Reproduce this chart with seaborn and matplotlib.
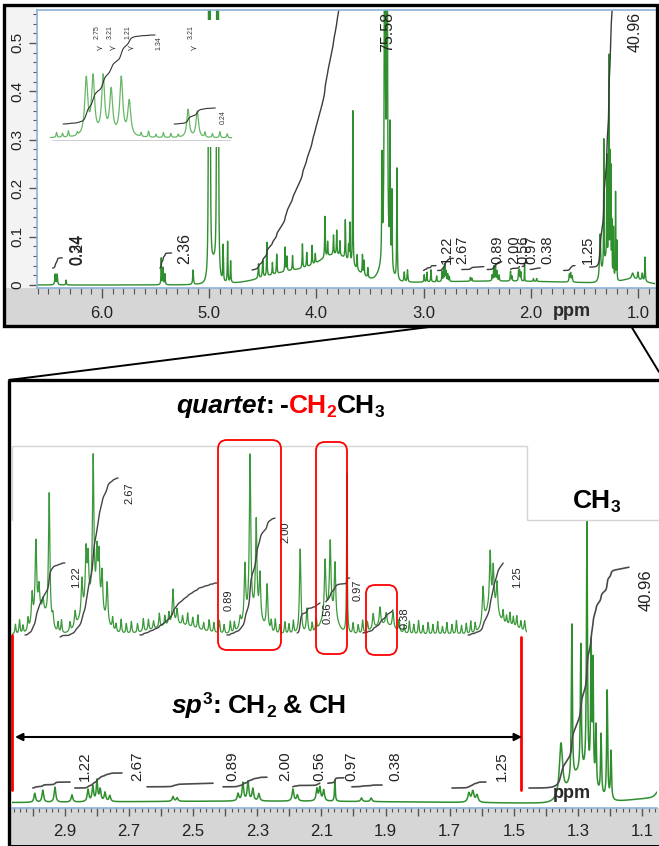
import numpy as np
import matplotlib
matplotlib.use("Agg")
import matplotlib.pyplot as plt
import matplotlib.ticker as mticker
from matplotlib.patches import Rectangle, FancyBboxPatch
import seaborn as sns

sns.set_style("white")
plt.rcParams["font.family"] = ["Liberation Sans", "DejaVu Sans"]

# ======================= DATA =======================
# main 1H spectrum lines: position (ppm), height, half-width (ppm)
main_line_ppm = [6.437, 6.418, 6.335,
                 5.447, 5.430, 5.412, 5.150,
                 5.004, 4.992, 4.928, 4.915, 4.870, 4.828, 4.800,
                 4.540, 4.500, 4.462, 4.410, 4.370, 4.292, 4.275, 4.222, 4.130, 4.090, 4.040, 4.010,
                 3.920, 3.895, 3.840, 3.810, 3.780, 3.730, 3.700, 3.688, 3.660, 3.620, 3.570, 3.555, 3.520,
                 3.388, 3.362, 3.341, 3.313, 3.295, 3.248, 3.180, 3.150,
                 2.994, 2.969, 2.931, 2.878, 2.828, 2.813, 2.800, 2.790, 2.775, 2.760,
                 2.563, 2.550, 2.360, 2.345, 2.329, 2.314, 2.295, 2.189, 2.175, 2.114, 2.105, 2.093, 2.058, 1.975, 1.945,
                 1.640, 1.628, 1.615,
                 1.353, 1.319, 1.291, 1.272, 1.259, 1.253, 1.244, 1.228, 1.209, 1.197,
                 1.050, 1.000, 0.960, 0.934]
main_line_height = [0.022, 0.022, 0.010,
                    0.055, 0.035, 0.022, 0.030,
                    0.90, 0.85, 0.90, 0.80, 0.075, 0.085, 0.045,
                    0.030, 0.035, 0.070, 0.025, 0.040, 0.050, 0.030, 0.030, 0.050, 0.030, 0.040, 0.020,
                    0.085, 0.030, 0.040, 0.050, 0.030, 0.080, 0.030, 0.080, 0.320, 0.030, 0.040, 0.030, 0.020,
                    0.210, 1.200, 1.200, 0.280, 0.160, 0.230, 0.020, 0.025,
                    0.015, 0.020, 0.025, 0.012, 0.020, 0.025, 0.035, 0.020, 0.015, 0.010,
                    0.008, 0.006, 0.012, 0.030, 0.032, 0.020, 0.012, 0.020, 0.010, 0.020, 0.022, 0.018, 0.035, 0.006, 0.006,
                    0.015, 0.018, 0.012,
                    0.090, 0.260, 0.210, 0.420, 0.220, 0.190, 0.100, 0.100, 0.180, 0.080,
                    0.012, 0.015, 0.015, 0.050]
main_line_width = [0.004, 0.004, 0.003,
                   0.0025, 0.003, 0.003, 0.004,
                   0.003, 0.003, 0.003, 0.003, 0.003, 0.003, 0.003,
                   0.004, 0.004, 0.003, 0.003, 0.003, 0.003, 0.003, 0.003, 0.003, 0.003, 0.003, 0.003,
                   0.003, 0.003, 0.003, 0.003, 0.003, 0.003, 0.003, 0.003, 0.0025, 0.003, 0.003, 0.003, 0.003,
                   0.003, 0.004, 0.004, 0.003, 0.003, 0.003, 0.004, 0.004,
                   0.003, 0.003, 0.003, 0.003, 0.003, 0.003, 0.0025, 0.003, 0.003, 0.003,
                   0.003, 0.003, 0.003, 0.003, 0.003, 0.003, 0.003, 0.003, 0.003, 0.003, 0.003, 0.003, 0.0015, 0.003, 0.003,
                   0.004, 0.004, 0.004,
                   0.006, 0.0018, 0.0018, 0.0018, 0.0018, 0.0015, 0.0018, 0.0018, 0.0018, 0.0018,
                   0.010, 0.005, 0.005, 0.003]
# broad humps under the main spectrum: centre, height, sigma
main_hump_ppm = [4.96, 4.15, 3.80, 3.36, 2.30, 1.29, 1.05]
main_hump_height = [0.04, 0.03, 0.045, 0.03, 0.008, 0.05, 0.01]
main_hump_sigma = [0.03, 0.30, 0.15, 0.05, 0.80, 0.035, 0.10]

# top inset (vinyl multiplets), heights in inset units
top_inset_ppm = [5.485, 5.462, 5.428, 5.401, 5.367, 5.340, 5.142, 5.111,
                 5.585, 5.565, 5.545, 5.515, 5.300, 5.275, 5.250, 5.225, 5.200, 5.175, 5.085, 5.060, 5.035, 5.010]
top_inset_height = [57, 58, 59, 45, 58, 35, 28, 26,
                    5, 4, 6, 3, 4, 6, 3, 5, 4, 3, 5, 4, 6, 4]
top_inset_width = [0.006] * 6 + [0.005] * 2 + [0.002] * 14

# enlarged sp3 region (bottom inset), heights in inset units
sp3_line_ppm = [2.981, 2.970, 2.961, 2.949, 2.931, 2.920,
                2.855, 2.835, 2.823, 2.817, 2.802, 2.791, 2.785, 2.776, 2.761,
                2.568, 2.556,
                2.371, 2.357, 2.342, 2.324, 2.313, 2.292,
                2.195, 2.175, 2.122, 2.107, 2.093, 2.058,
                1.981, 1.961, 1.943, 1.923,
                1.659, 1.638, 1.629, 1.618]
sp3_line_height = [0.30, 0.75, 0.25, 0.12, 1.30, 0.12,
                   0.15, 0.35, 0.55, 0.45, 1.45, 0.50, 0.50, 0.40, 0.40,
                   0.35, 0.15,
                   0.10, 0.55, 1.60, 0.95, 0.45, 0.45,
                   0.85, 0.25, 0.55, 0.70, 0.55, 1.60,
                   0.15, 0.18, 0.12, 0.16,
                   0.35, 0.55, 0.40, 0.30]
sp3_minor_ppm = [3.030, 3.018, 3.008, 2.993, 2.905, 2.895, 2.870, 2.745, 2.735, 2.720, 2.705, 2.690,
                 2.672, 2.655, 2.640, 2.625, 2.608, 2.592, 2.580, 2.540, 2.525, 2.510, 2.495, 2.478,
                 2.462, 2.448, 2.432, 2.418, 2.400, 2.388, 2.280, 2.268, 2.255, 2.240, 2.228, 2.215,
                 2.160, 2.148, 2.040, 2.025, 2.012, 1.998, 1.905, 1.890, 1.875, 1.862, 1.848, 1.835,
                 1.820, 1.806, 1.792, 1.778, 1.765, 1.750, 1.737, 1.722, 1.708, 1.695, 1.682, 1.600,
                 1.590, 1.580, 1.570, 1.560, 1.548, 1.537]
sp3_minor_height = [0.10, 0.14, 0.08, 0.12, 0.10, 0.13, 0.09, 0.12, 0.08, 0.14, 0.10, 0.12,
                    0.09, 0.13, 0.11, 0.08, 0.14, 0.10, 0.12, 0.09, 0.13, 0.10, 0.14, 0.08,
                    0.12, 0.10, 0.13, 0.09, 0.12, 0.10, 0.11, 0.14, 0.09, 0.12, 0.10, 0.13,
                    0.10, 0.12, 0.11, 0.09, 0.13, 0.10, 0.12, 0.08, 0.13, 0.10, 0.14, 0.09,
                    0.12, 0.10, 0.13, 0.08, 0.12, 0.10, 0.14, 0.09, 0.11, 0.13, 0.10, 0.12,
                    0.09, 0.13, 0.10, 0.12, 0.09, 0.11]
sp3_hump_ppm = [2.955, 2.805, 2.56, 2.335, 2.11, 1.95, 1.635, 1.58]
sp3_hump_height = [0.22, 0.30, 0.10, 0.18, 0.22, 0.10, 0.25, 0.08]
sp3_hump_sigma = [0.02, 0.03, 0.06, 0.025, 0.02, 0.03, 0.02, 0.03]

# integrals: (start ppm, end ppm, start value, end value, anchor ppm)
top_integrals = [(6.46, 6.37, 0.035, 0.056, None),
                 (5.46, 5.35, 0.035, 0.066, None),
                 (4.60, 3.20, 0.031, 0.58, 3.78),
                 (1.45, 1.10, 0.037, 0.58, 1.233)]
sp3_integrals = [(3.000, 2.884, 0.030, 0.040), (2.869, 2.722, 0.030, 0.055),
                 (2.644, 2.438, 0.032, 0.038), (2.407, 2.270, 0.032, 0.048),
                 (2.189, 2.105, 0.032, 0.038), (2.080, 2.030, 0.038, 0.047),
                 (2.005, 1.911, 0.032, 0.035), (1.693, 1.587, 0.030, 0.040)]
ch3_integral = (1.453, 1.141, 0.030, 0.398)
sp3_inset_integrals = [(3.002, 2.885, 0.0, 0.72), (2.899, 2.729, -0.02, 1.57),
                       (2.665, 2.439, 0.0, 0.52), (2.410, 2.269, 0.0, 1.17),
                       (2.204, 2.137, 0.02, 0.32), (2.120, 2.050, 0.33, 0.57),
                       (2.011, 1.923, 0.02, 0.25), (1.703, 1.600, 0.0, 0.72)]
top_inset_integrals = [(5.563, 5.253, 14, 103), (5.189, 5.050, 14, 30)]

integral_names = ["1.22", "2.67", "0.89", "2.00", "0.56", "0.97", "0.38", "1.25"]
top_label_ppm = [2.781, 2.642, 2.315, 2.150, 2.073, 1.995, 1.849, 1.466]
bottom_label_ppm = [2.838, 2.675, 2.379, 2.214, 2.105, 2.008, 1.868, 1.537]
inset_label_ppm = [2.852, 2.697, 2.404, 2.239, 2.116, 2.028, 1.888, 1.559]
inset_label_val = [0.58, 1.42, 0.35, 1.03, 0.22, 0.45, 0.17, 0.58]

top_x_ticks = [6.0, 5.0, 4.0, 3.0, 2.0, 1.0]
top_y_ticks = [0, 0.1, 0.2, 0.3, 0.4, 0.5]

# ======================= helpers =======================
def lorentz(grid, ppm, h, w):
    out = np.zeros_like(grid)
    for p, hh, ww in zip(ppm, h, w):
        out += hh * ww ** 2 / ((grid - p) ** 2 + ww ** 2)
    return out

def gauss(grid, ppm, h, s):
    out = np.zeros_like(grid)
    for p, hh, ss in zip(ppm, h, s):
        out += hh * np.exp(-(grid - p) ** 2 / (2 * ss ** 2))
    return out

def integral(grid, spec, start, end, v0, v1, anchor=None):
    m = (grid <= start) & (grid >= end)
    g, s = grid[m], spec[m]
    s = np.clip(s - s.min(), 0, None)
    c = np.cumsum(s)
    a = end if anchor is None else anchor
    c = c / c[np.argmin(np.abs(g - a))]
    return g, v0 + (v1 - v0) * c

W, H = 659, 846
fig = plt.figure(figsize=(W / 100, H / 100), dpi=100)
fig.patch.set_facecolor("white")

def px_axes(x0, y0, x1, y1, **kw):
    return fig.add_axes([x0 / W, 1 - y1 / H, (x1 - x0) / W, (y1 - y0) / H], **kw)

GREEN = "#2f8f2f"
INT = "#3c3c3c"
SPINE = "#8fb0d8"

# background (grey bands)
bg = fig.add_axes([0, 0, 1, 1], zorder=-10)
bg.set_xlim(0, W); bg.set_ylim(H, 0); bg.axis("off")
bg.add_patch(Rectangle((4, 5), 33, 283, fc="#f3f3f3", ec="none"))
bg.add_patch(Rectangle((4, 288), 653, 37, fc="#d6d6d6", ec="none"))
bg.add_patch(Rectangle((10, 808), 649, 36, fc="#d6d6d6", ec="none"))

# ======================= TOP PANEL =======================
grid_top = np.linspace(6.62, 0.82, 15000)
spec_main_top = lorentz(grid_top, main_line_ppm, main_line_height, main_line_width) + \
    gauss(grid_top, main_hump_ppm, main_hump_height, main_hump_sigma)

ax = px_axes(37, 10, 655, 288)
sns.lineplot(x=grid_top, y=spec_main_top, ax=ax, color=GREEN, lw=1.0, estimator=None, sort=False)
for (s, e, v0, v1, a) in top_integrals:
    g, y = integral(grid_top, spec_main_top, s, e, v0, v1, a)
    sns.lineplot(x=g, y=y, ax=ax, color=INT, lw=1.0, estimator=None, sort=False)
for (s, e, v0, v1) in sp3_integrals:
    g, y = integral(grid_top, spec_main_top, s, e, v0, v1)
    sns.lineplot(x=g, y=y, ax=ax, color=INT, lw=1.0, estimator=None, sort=False)
ax.set_xlim(6.606, 0.841)
ax.set_ylim(-0.0062, 0.568)
ax.set_xlabel(""); ax.set_ylabel("")
for side in ["left", "bottom", "top"]:
    ax.spines[side].set_color(SPINE); ax.spines[side].set_linewidth(1.2)
ax.spines["right"].set_visible(False)
ax.set_xticks(top_x_ticks)
ax.xaxis.set_major_formatter(mticker.FormatStrFormatter("%.1f"))
ax.xaxis.set_minor_locator(mticker.MultipleLocator(0.1))
ax.set_yticks(top_y_ticks)
ax.yaxis.set_major_formatter(mticker.FuncFormatter(lambda v, p: "0" if abs(v) < 1e-9 else f"{v:.1f}"))
ax.yaxis.set_minor_locator(mticker.MultipleLocator(0.02))
ax.tick_params(axis="x", which="major", direction="out", length=7, width=1, color="#555",
               labelsize=12, labelcolor="#222", pad=6, bottom=True, top=False)
ax.tick_params(axis="x", which="minor", direction="out", length=4, width=0.8, color="#555", bottom=True, top=False)
ax.tick_params(axis="y", which="major", direction="out", length=6, width=1, color="#555",
               labelsize=11, labelcolor="#222", pad=3, labelrotation=90, left=True)
ax.tick_params(axis="y", which="minor", direction="out", length=3, width=0.8, color="#555", left=True)
for t in ax.get_yticklabels():
    t.set_va("center")

# top labels
for txt, x, y in [("0.34", 6.232, 0.073), ("0.24", 6.222, 0.073), ("2.36", 5.226, 0.076),
                  ("75.58", 3.333, 0.523), ("40.96", 1.028, 0.523)]:
    ax.text(x, y, txt, rotation=90, ha="center", va="center", fontsize=11.5, color="#222")
for txt, x in zip(integral_names, top_label_ppm):
    ax.text(x, 0.073, txt, rotation=90, ha="center", va="center", fontsize=10.5, color="#222")

# top inset
grid_ti = np.linspace(5.61, 4.99, 3000)
spec_ti = lorentz(grid_ti, top_inset_ppm, top_inset_height, top_inset_width)
axi = px_axes(50, 20, 232, 147, zorder=5)
axi.set_facecolor("white")
axi.axhline(-2, xmin=0.01, xmax=0.99, color="#c8c8c8", lw=0.6)
sns.lineplot(x=grid_ti, y=spec_ti, ax=axi, color="#66b866", lw=0.9, estimator=None, sort=False)
for (s, e, v0, v1) in top_inset_integrals:
    g, y = integral(grid_ti, spec_ti, s, e, v0, v1)
    sns.lineplot(x=g, y=y, ax=axi, color="#333", lw=0.8, estimator=None, sort=False)
axi.set_xlim(5.607, 4.994)
axi.set_ylim(-9, 118)
axi.set_xticks([]); axi.set_yticks([])
for sp in axi.spines.values():
    sp.set_visible(False)
axi.set_xlabel(""); axi.set_ylabel("")
for txt, x, y in [("1.34", 5.24, 95), ("0.24", 5.025, 21)]:
    axi.text(x, y, txt, rotation=90, ha="center", va="center", fontsize=5, color="#333")
for txt, x in [("2.75", 5.450), ("3.21", 5.406), ("1.21", 5.344), ("3.21", 5.132)]:
    axi.text(x, 106, txt, rotation=90, ha="center", va="center", fontsize=5, color="#333")
    axi.text(x - 0.006, 90, "\u227b", ha="center", va="center", fontsize=6, color="#333",
             family=["DejaVu Sans"])

# ======================= BOTTOM PANEL =======================
grid_b = np.linspace(3.07, 1.05, 10000)
spec_main_b = lorentz(grid_b, main_line_ppm, main_line_height, main_line_width) + \
    gauss(grid_b, main_hump_ppm, main_hump_height, main_hump_sigma)
axb = px_axes(12, 380, 657, 808)
sns.lineplot(x=grid_b, y=spec_main_b, ax=axb, color=GREEN, lw=1.1, estimator=None, sort=False)
for (s, e, v0, v1) in sp3_integrals + [ch3_integral]:
    g, y = integral(grid_b, spec_main_b, s, e, v0, v1)
    sns.lineplot(x=g, y=y, ax=axb, color="#4a4a4a", lw=1.2, estimator=None, sort=False)
axb.set_xlim(3.065, 1.0535)
axb.set_ylim(-0.0033, 0.71)
axb.set_xlabel(""); axb.set_ylabel("")
for side in ["left", "right", "top"]:
    axb.spines[side].set_visible(False)
axb.spines["bottom"].set_color(SPINE); axb.spines["bottom"].set_linewidth(1.2)
axb.set_yticks([])
axb.xaxis.set_major_locator(mticker.MultipleLocator(0.1))
axb.xaxis.set_minor_locator(mticker.MultipleLocator(0.02))
axb.xaxis.set_major_formatter(mticker.FuncFormatter(
    lambda v, p: f"{v:.1f}" if int(round(v * 10)) % 2 == 1 else ""))
axb.tick_params(axis="x", which="major", direction="out", length=6, width=1, color="#555",
                labelsize=12, labelcolor="#222", pad=5.5, bottom=True)
axb.tick_params(axis="x", which="minor", direction="out", length=3, width=0.8, color="#555", bottom=True)
for txt, x in zip(integral_names, bottom_label_ppm):
    axb.text(x, 0.066, txt, rotation=90, ha="center", va="center", fontsize=11, color="#222")
axb.text(1.088, 0.36, "40.96", rotation=90, ha="center", va="center", fontsize=12, color="#222")

# bottom inset: enlarged sp3 region
grid_i = np.linspace(3.04, 1.53, 8000)
spec_i = lorentz(grid_i, sp3_line_ppm, sp3_line_height,
                 [0.0012 if abs(p - 2.058) < 1e-6 else 0.0025 for p in sp3_line_ppm]) + \
    lorentz(grid_i, sp3_minor_ppm, sp3_minor_height, [0.0018] * len(sp3_minor_ppm)) + \
    gauss(grid_i, sp3_hump_ppm, sp3_hump_height, sp3_hump_sigma)
axs = px_axes(12, 446, 527, 650, zorder=5)
axs.patch.set_alpha(0)
sns.lineplot(x=grid_i, y=spec_i, ax=axs, color="#3a993a", lw=0.9, estimator=None, sort=False)
for (s, e, v0, v1) in sp3_inset_integrals:
    g, y = integral(grid_i, spec_i, s, e, v0, v1)
    sns.lineplot(x=g, y=y, ax=axs, color="#444", lw=1.0, estimator=None, sort=False)
axs.set_xlim(3.04, 1.530)
axs.set_ylim(-0.15, 1.89)
axs.set_xticks([]); axs.set_yticks([])
axs.set_xlabel(""); axs.set_ylabel("")
for sp in axs.spines.values():
    sp.set_visible(False)
for txt, x, y in zip(integral_names, inset_label_ppm, inset_label_val):
    axs.text(x, y, txt, rotation=90, ha="center", va="center", fontsize=8, color="#222")

# ======================= OVERLAY (frames, annotations) =======================
ov = fig.add_axes([0, 0, 1, 1], zorder=20)
ov.set_xlim(0, W); ov.set_ylim(H, 0); ov.axis("off")
ov.patch.set_alpha(0)

# white box for CH3 label and grey outline of the enlarged view
ov.add_patch(Rectangle((527, 446), 132, 74, fc="white", ec="none", zorder=1))
ov.plot([12, 12, 527, 527, 659], [520, 446, 446, 520, 520], color="#d4d4d4", lw=1.0, zorder=2)

# frames and connectors
ov.add_patch(Rectangle((4, 5), 653, 321, fill=False, ec="black", lw=2.4, zorder=5))
ov.add_patch(Rectangle((9, 380), 660, 466, fill=False, ec="black", lw=2.4, zorder=5, clip_on=False))
ov.plot([9, 437], [380, 326], color="black", lw=1.4, zorder=5)
ov.plot([631, 659], [326, 372], color="black", lw=1.4, zorder=5)

# red highlight boxes
for (x0, y0, w, h) in [(218, 440, 63, 210), (316, 442, 31, 212), (366, 585, 31, 70)]:
    ov.add_patch(FancyBboxPatch((x0, y0), w, h, boxstyle="round,pad=0,rounding_size=9",
                                fc="none", ec="red", lw=1.3, zorder=4))
ov.plot([12, 12], [635, 790], color="red", lw=2.0, zorder=4)
ov.plot([521, 521], [637, 790], color="red", lw=2.0, zorder=4)
ov.annotate("", xy=(15, 737), xytext=(522, 737),
            arrowprops=dict(arrowstyle="<|-|>", color="black", lw=1.5, mutation_scale=11,
                            shrinkA=0, shrinkB=0), zorder=4)

# "ppm" labels
ov.text(572, 312, "ppm", ha="center", va="center", fontsize=13, weight="heavy", color="#2a2a2a")
ov.text(572, 793, "ppm", ha="center", va="center", fontsize=13, weight="heavy", color="#2a2a2a", zorder=6)

renderer = fig.canvas.get_renderer()

def rich_text(x, y, parts):
    for s, kw in parts:
        kw = dict(kw)
        dy = kw.pop("dy", 0)
        x += kw.pop("gap", 0)
        t = ov.text(x, y + dy, s, ha="left", va="baseline", zorder=6, **kw)
        x += t.get_window_extent(renderer=renderer).width

B = dict(fontsize=19, weight="bold", color="black")
S = dict(fontsize=12.5, weight="bold", color="black")
rich_text(176, 413, [("quartet", dict(B, style="italic")), (":", B), ("-", dict(B, gap=6)),
                     ("CH", dict(B, color="red")), ("2", dict(S, color="red", dy=4)),
                     ("CH", B), ("3", dict(S, dy=4))])
rich_text(172, 713, [("sp", dict(B, style="italic")), ("3", dict(S, dy=-9)), (":", B),
                     ("CH", dict(B, gap=7)), ("2", dict(S, dy=4)), ("&", dict(B, gap=7)),
                     ("CH", dict(B, gap=7))])
rich_text(573, 508, [("CH", B), ("3", dict(S, dy=4))])

fig.savefig("out.png", dpi=100)
